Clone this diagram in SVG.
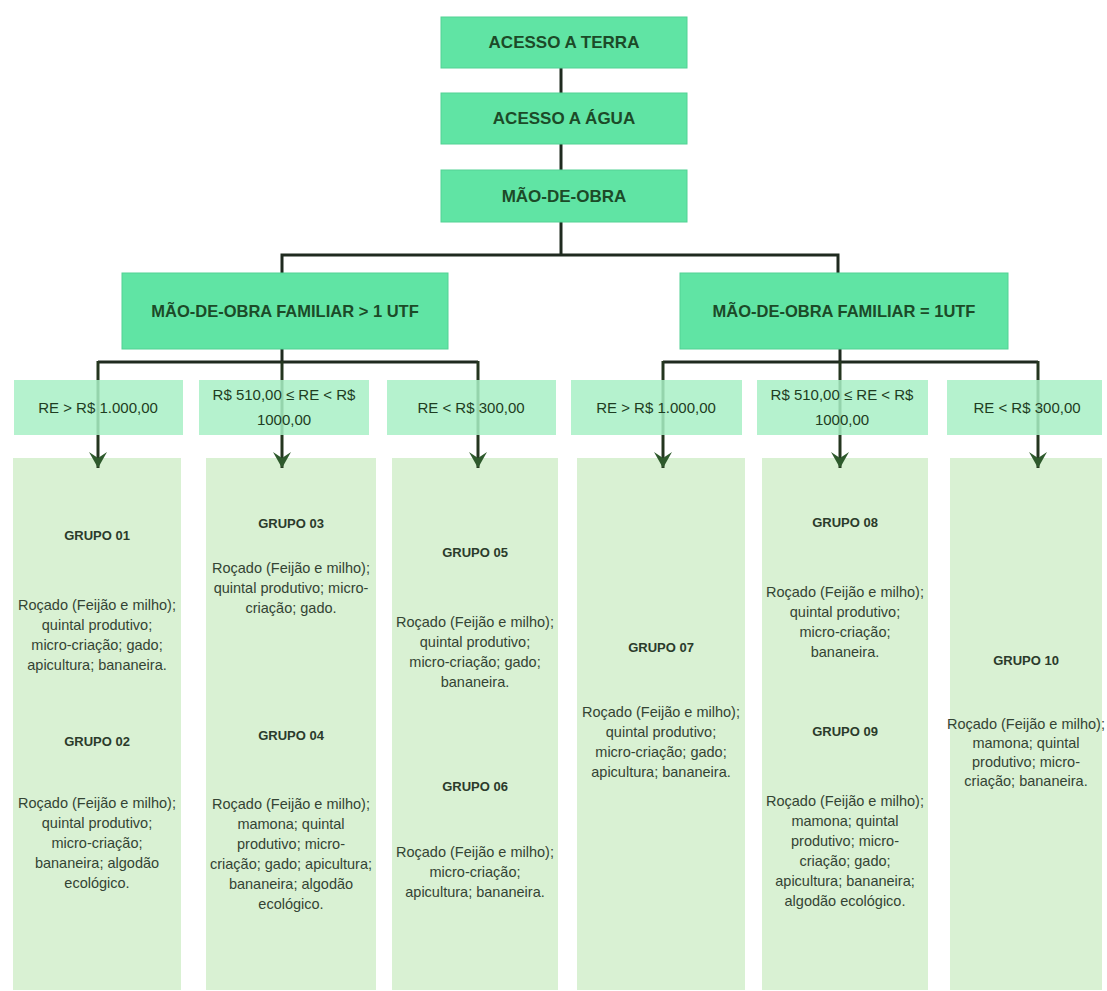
<svg xmlns="http://www.w3.org/2000/svg" width="1107" height="991" viewBox="0 0 1107 991">
<defs>
<style>
.top{fill:#60e4a4;stroke:#52d294;stroke-width:1}
.re{fill:#a8f0c6;fill-opacity:0.85}
.col{fill:#d9f1d3}
.ht{font-family:"Liberation Sans",Arial,sans-serif;font-weight:bold;font-size:17px;fill:#1c4a28;text-anchor:middle}
.ft{font-family:"Liberation Sans",Arial,sans-serif;font-weight:bold;font-size:16.5px;fill:#1c4a28;text-anchor:middle}
.rt{font-family:"Liberation Sans",Arial,sans-serif;font-size:15px;fill:#1e3d22;text-anchor:middle}
.gt{font-family:"Liberation Sans",Arial,sans-serif;font-weight:bold;font-size:13px;fill:#2b3b2b;text-anchor:middle}
.dt{font-family:"Liberation Sans",Arial,sans-serif;font-size:14.5px;fill:#344434;text-anchor:middle}
.ln{fill:none;stroke:#1f2a1f;stroke-width:3}
.ar{fill:none;stroke:#24361f;stroke-width:3;marker-end:url(#ah)}
</style>
<marker id="ah" markerUnits="userSpaceOnUse" markerWidth="22" markerHeight="22" refX="18" refY="11" orient="auto" viewBox="0 0 22 22">
<path d="M2,2 L18,11 L2,20 L8,11 Z" fill="#2e5a2c"/>
</marker>
</defs>
<rect width="1107" height="991" fill="#ffffff"/>

<g id="g01"><rect class="col" x="13" y="458" width="168" height="532"/>
<text class="gt" x="97" y="540">GRUPO 01</text>
<text class="dt" x="97" y="610">Roçado (Feijão e milho);</text>
<text class="dt" x="97" y="630">quintal produtivo;</text>
<text class="dt" x="97" y="650">micro-criação; gado;</text>
<text class="dt" x="97" y="670">apicultura; bananeira.</text>
<text class="gt" x="97" y="746">GRUPO 02</text>
<text class="dt" x="97" y="808">Roçado (Feijão e milho);</text>
<text class="dt" x="97" y="828">quintal produtivo;</text>
<text class="dt" x="97" y="848">micro-criação;</text>
<text class="dt" x="97" y="868">bananeira; algodão</text>
<text class="dt" x="97" y="888">ecológico.</text>
</g>
<g id="g03"><rect class="col" x="206" y="458" width="170" height="532"/>
<text class="gt" x="291" y="528">GRUPO 03</text>
<text class="dt" x="291" y="573">Roçado (Feijão e milho);</text>
<text class="dt" x="291" y="593">quintal produtivo; micro-</text>
<text class="dt" x="291" y="613">criação; gado.</text>
<text class="gt" x="291" y="740">GRUPO 04</text>
<text class="dt" x="291" y="809">Roçado (Feijão e milho);</text>
<text class="dt" x="291" y="829">mamona; quintal</text>
<text class="dt" x="291" y="849">produtivo; micro-</text>
<text class="dt" x="291" y="869">criação; gado; apicultura;</text>
<text class="dt" x="291" y="889">bananeira; algodão</text>
<text class="dt" x="291" y="909">ecológico.</text>
</g>
<g id="g05"><rect class="col" x="392" y="458" width="166" height="532"/>
<text class="gt" x="475" y="557">GRUPO 05</text>
<text class="dt" x="475" y="627">Roçado (Feijão e milho);</text>
<text class="dt" x="475" y="647">quintal produtivo;</text>
<text class="dt" x="475" y="667">micro-criação; gado;</text>
<text class="dt" x="475" y="687">bananeira.</text>
<text class="gt" x="475" y="791">GRUPO 06</text>
<text class="dt" x="475" y="857">Roçado (Feijão e milho);</text>
<text class="dt" x="475" y="877">micro-criação;</text>
<text class="dt" x="475" y="897">apicultura; bananeira.</text>
</g>
<g id="g07"><rect class="col" x="577" y="458" width="168" height="532"/>
<text class="gt" x="661" y="652">GRUPO 07</text>
<text class="dt" x="661" y="717">Roçado (Feijão e milho);</text>
<text class="dt" x="661" y="737">quintal produtivo;</text>
<text class="dt" x="661" y="757">micro-criação; gado;</text>
<text class="dt" x="661" y="777">apicultura; bananeira.</text>
</g>
<g id="g08"><rect class="col" x="762" y="458" width="166" height="532"/>
<text class="gt" x="845" y="527">GRUPO 08</text>
<text class="dt" x="845" y="597">Roçado (Feijão e milho);</text>
<text class="dt" x="845" y="617">quintal produtivo;</text>
<text class="dt" x="845" y="637">micro-criação;</text>
<text class="dt" x="845" y="657">bananeira.</text>
<text class="gt" x="845" y="736">GRUPO 09</text>
<text class="dt" x="845" y="806">Roçado (Feijão e milho);</text>
<text class="dt" x="845" y="826">mamona; quintal</text>
<text class="dt" x="845" y="846">produtivo; micro-</text>
<text class="dt" x="845" y="866">criação; gado;</text>
<text class="dt" x="845" y="886">apicultura; bananeira;</text>
<text class="dt" x="845" y="906">algodão ecológico.</text>
</g>
<g id="g10"><rect class="col" x="950" y="458" width="152" height="532"/>
<text class="gt" x="1026" y="665">GRUPO 10</text>
<text class="dt" x="1026" y="729">Roçado (Feijão e milho);</text>
<text class="dt" x="1026" y="748">mamona; quintal</text>
<text class="dt" x="1026" y="767">produtivo; micro-</text>
<text class="dt" x="1026" y="786">criação; bananeira.</text>
</g>

<g id="connectors">
<path class="ln" d="M561,68 V93"/>
<path class="ln" d="M561,144 V170"/>
<path class="ln" d="M561,222 V255"/>
<path class="ln" d="M282,273 V255 H838 V273"/>
<path class="ln" d="M282,349 V362"/>
<path class="ln" d="M98,362 H478"/>
<path class="ln" d="M840,349 V362"/>
<path class="ln" d="M663,362 H1038"/>
<path class="ar" d="M98,361 V468"/>
<path class="ar" d="M282,361 V468"/>
<path class="ar" d="M478,361 V468"/>
<path class="ar" d="M663,361 V468"/>
<path class="ar" d="M840,361 V468"/>
<path class="ar" d="M1038,361 V468"/>
</g>

<g id="terra"><rect class="top" x="441" y="17" width="246" height="51"/>
<text class="ht" x="564" y="48">ACESSO A TERRA</text></g>
<g id="agua"><rect class="top" x="441" y="93" width="246" height="51"/>
<text class="ht" x="564" y="124">ACESSO A ÁGUA</text></g>
<g id="maodeobra"><rect class="top" x="441" y="170" width="246" height="52"/>
<text class="ht" x="564" y="202">MÃO-DE-OBRA</text></g>
<g id="fam1"><rect class="top" x="122" y="273" width="326" height="76"/>
<text class="ft" x="285" y="317">MÃO-DE-OBRA FAMILIAR &gt; 1 UTF</text></g>
<g id="fam2"><rect class="top" x="680" y="273" width="328" height="76"/>
<text class="ft" x="844" y="317">MÃO-DE-OBRA FAMILIAR = 1UTF</text></g>

<g id="re1"><rect class="re" x="14" y="380" width="169" height="55"/>
<text class="rt" x="98" y="413">RE &gt; R$ 1.000,00</text></g>
<g id="re2"><rect class="re" x="199" y="380" width="170" height="55"/>
<text class="rt" x="284" y="400">R$ 510,00 ≤ RE &lt; R$</text>
<text class="rt" x="284" y="425">1000,00</text></g>
<g id="re3"><rect class="re" x="387" y="380" width="169" height="55"/>
<text class="rt" x="471" y="413">RE &lt; R$ 300,00</text></g>
<g id="re4"><rect class="re" x="571" y="380" width="171" height="55"/>
<text class="rt" x="656" y="413">RE &gt; R$ 1.000,00</text></g>
<g id="re5"><rect class="re" x="757" y="380" width="171" height="55"/>
<text class="rt" x="842" y="400">R$ 510,00 ≤ RE &lt; R$</text>
<text class="rt" x="842" y="425">1000,00</text></g>
<g id="re6"><rect class="re" x="947" y="380" width="155" height="55"/>
<text class="rt" x="1027" y="413">RE &lt; R$ 300,00</text></g>
</svg>
